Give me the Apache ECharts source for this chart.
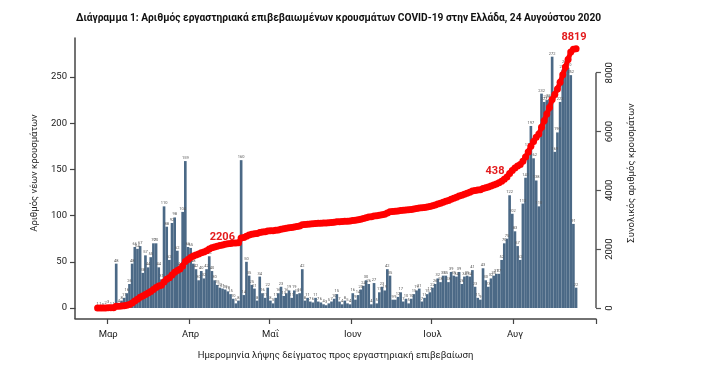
<!DOCTYPE html>
<html>
<head>
<meta charset="utf-8">
<script src="https://cdn.jsdelivr.net/npm/echarts@6/dist/echarts.min.js"></script>
<style>
html,body{margin:0;padding:0;background:#fff;}
#chart{width:701px;height:366px;}
</style>
</head>
<body>
<div id="chart"></div>
<script>
// ---- data: daily laboratory-confirmed cases by sampling date (26 Feb – 24 Aug 2020) ----
const startDate = '2020-02-26';
const feb = [1, 1, 0, 2];
const mar = [3, 1, 1, 48, 4, 8, 11, 16, 26, 48, 66, 64, 67, 38, 57, 44, 55, 70, 70, 44, 31, 110, 88, 52, 92, 98, 62, 44, 104, 159, 66];
const apr = [65, 48, 42, 30, 40, 32, 42, 56, 40, 30, 25, 22, 21, 20, 18, 15, 10, 5, 8, 160, 14, 50, 35, 25, 21, 8, 34, 16, 11, 22];
const may = [8, 5, 11, 16, 23, 13, 16, 19, 11, 19, 15, 16, 42, 8, 11, 7, 6, 11, 7, 6, 4, 3, 5, 7, 10, 15, 7, 4, 8, 5, 4];
const jun = [16, 9, 14, 20, 24, 30, 26, 4, 27, 5, 17, 23, 19, 42, 35, 9, 9, 12, 17, 7, 10, 5, 10, 15, 19, 21, 7, 11, 15, 17];
const jul = [22, 26, 32, 28, 35, 35, 28, 39, 35, 34, 39, 26, 34, 35, 34, 41, 23, 11, 9, 43, 30, 23, 32, 35, 37, 37, 52, 70, 75, 122, 102];
const aug = [83, 67, 52, 113, 141, 173, 197, 162, 138, 110, 232, 223, 225, 226, 272, 169, 190, 223, 258, 263, 260, 252, 91, 22];

// axis ticks / labels
const monthTicks = ['2020-03-01', '2020-04-01', '2020-05-01', '2020-06-01', '2020-07-01', '2020-08-01'];
const monthLabels = ['Μαρ', 'Απρ', 'Μαΐ', 'Ιουν', 'Ιουλ', 'Αυγ'];
const leftTicks = [0, 50, 100, 150, 200, 250];
const rightTicks = [0, 2000, 4000, 6000, 8000];

// annotated cumulative values: [date, text, position]
const annotations = [['2020-04-19', '2206', 'left'], ['2020-07-29', '438', 'left'], ['2020-08-24', '8819', 'top']];

// empty days shown on the axis before / after the data
const padBefore = 8, padAfter = 7;

// ---- build ----
const DAY = 86400000;
const toTs = s => { const p = s.split('-').map(Number); return Date.UTC(p[0], p[1] - 1, p[2]); };
const fmt = t => new Date(t).toISOString().slice(0, 10);
const t0 = toTs(startDate);
const daily = [].concat(feb, mar, apr, may, jun, jul, aug);
const categories = [];
for (let i = -padBefore; i < daily.length + padAfter; i++) categories.push(fmt(t0 + i * DAY));
const barData = categories.map((c, k) => { const i = k - padBefore; return (i >= 0 && i < daily.length) ? daily[i] : null; });
let run = 0;
const cum = daily.map(v => (run += v));
const annMap = {};
annotations.forEach(a => { annMap[a[0]] = a; });
const FONT = 'Roboto, "Liberation Sans", sans-serif';
const annOffset = {'2020-04-19': [5, -5], '2020-07-29': [6, -6], '2020-08-24': [-2, 3]};
const lineData = categories.map((c, k) => {
  const i = k - padBefore;
  if (i < 0 || i >= daily.length) return null;
  const a = annMap[c];
  if (!a) return cum[i];
  return {
    value: cum[i],
    label: {
      show: true, position: a[2], formatter: a[1],
      color: '#e31a1c', fontWeight: 'bold', fontSize: 11, fontFamily: FONT,
      offset: annOffset[c]
    }
  };
});
const isMonthStart = (idx, v) => monthTicks.indexOf(v) >= 0;

const chart = echarts.init(document.getElementById('chart'), null, {renderer: 'canvas'});
const option = {
  animation: false,
  backgroundColor: '#ffffff',
  title: {
    text: 'Διάγραμμα 1: Αριθμός εργαστηριακά επιβεβαιωμένων κρουσμάτων COVID-19 στην Ελλάδα, 24 Αυγούστου 2020',
    left: 76, top: 13, padding: 0,
    textStyle: {fontSize: 10.2, fontWeight: 'bold', color: '#111', fontFamily: FONT}
  },
  grid: {left: 75, right: 105, top: 38, bottom: 58, containLabel: false},
  xAxis: {
    type: 'category', data: categories, boundaryGap: true, offset: 11,
    name: 'Ημερομηνία λήψης δείγματος προς εργαστηριακή επιβεβαίωση',
    nameLocation: 'middle', nameGap: 32,
    nameTextStyle: {fontSize: 9.5, color: '#222', fontFamily: FONT},
    axisLine: {show: true, onZero: false, lineStyle: {color: '#444', width: 1.5}},
    axisTick: {show: true, interval: isMonthStart, length: 5, lineStyle: {color: '#444', width: 1.2}},
    axisLabel: {
      interval: isMonthStart, margin: 11,
      fontSize: 9.5, color: '#222', fontFamily: FONT,
      formatter: v => monthLabels[monthTicks.indexOf(v)] || ''
    },
    splitLine: {show: false}
  },
  yAxis: [
    {
      type: 'value', position: 'left',
      min: 0, max: 292.2,
      name: 'Αριθμός νέων κρουσμάτων', nameLocation: 'middle', nameGap: 32, nameRotate: 90,
      nameTextStyle: {fontSize: 9.5, color: '#222', fontFamily: FONT},
      axisLine: {show: true, onZero: false, lineStyle: {color: '#444', width: 1.5}},
      axisTick: {show: true, customValues: leftTicks, length: 5, lineStyle: {color: '#444', width: 1.2}},
      axisLabel: {customValues: leftTicks, fontSize: 9.5, color: '#222', fontFamily: FONT, margin: 8},
      splitLine: {show: false}
    },
    {
      type: 'value', position: 'right',
      min: 0, max: 9181,
      name: 'Συνολικός αριθμός κρουσμάτων', nameLocation: 'middle', nameGap: 31, nameRotate: 90,
      nameTextStyle: {fontSize: 9.5, color: '#222', fontFamily: FONT},
      axisLine: {show: false, onZero: false},
      axisTick: {show: true, customValues: rightTicks, length: 5, lineStyle: {color: '#555', width: 1.2}},
      axisLabel: {customValues: rightTicks, rotate: 90, fontSize: 9.5, color: '#222', fontFamily: FONT, margin: 9,
        formatter: v => String(v)},
      splitLine: {show: false}
    }
  ],
  series: [
    {
      type: 'bar', yAxisIndex: 0, data: barData,
      barWidth: '100%',
      itemStyle: {color: '#4b6986'},
      label: {show: true, position: 'top', distance: 1, fontSize: 4, color: '#555', fontFamily: FONT},
      z: 1
    },
    {
      type: 'line', yAxisIndex: 1, data: lineData,
      symbol: 'circle', symbolSize: 7, showAllSymbol: true,
      lineStyle: {color: '#ff0000', width: 5},
      itemStyle: {color: '#ff0000'},
      z: 3
    }
  ]
};
chart.setOption(option);
// axis decorations taken from the axis scales: right axis line (0..8000), left axis line down to the x axis
const rect = chart.getModel().getComponent('grid').coordinateSystem.getRect();
const yR0 = chart.convertToPixel({yAxisIndex: 1}, rightTicks[0]);
const yR1 = chart.convertToPixel({yAxisIndex: 1}, rightTicks[rightTicks.length - 1]);
const xOffset = option.xAxis.offset;
chart.setOption({graphic: [
  {type: 'line', shape: {x1: rect.x + rect.width, y1: yR0, x2: rect.x + rect.width, y2: yR1}, style: {stroke: '#555', lineWidth: 1.5}, z: 5},
  {type: 'line', shape: {x1: rect.x, y1: rect.y + rect.height, x2: rect.x, y2: rect.y + rect.height + xOffset}, style: {stroke: '#444', lineWidth: 1.5}, z: 5}
]});
</script>
</body>
</html>
